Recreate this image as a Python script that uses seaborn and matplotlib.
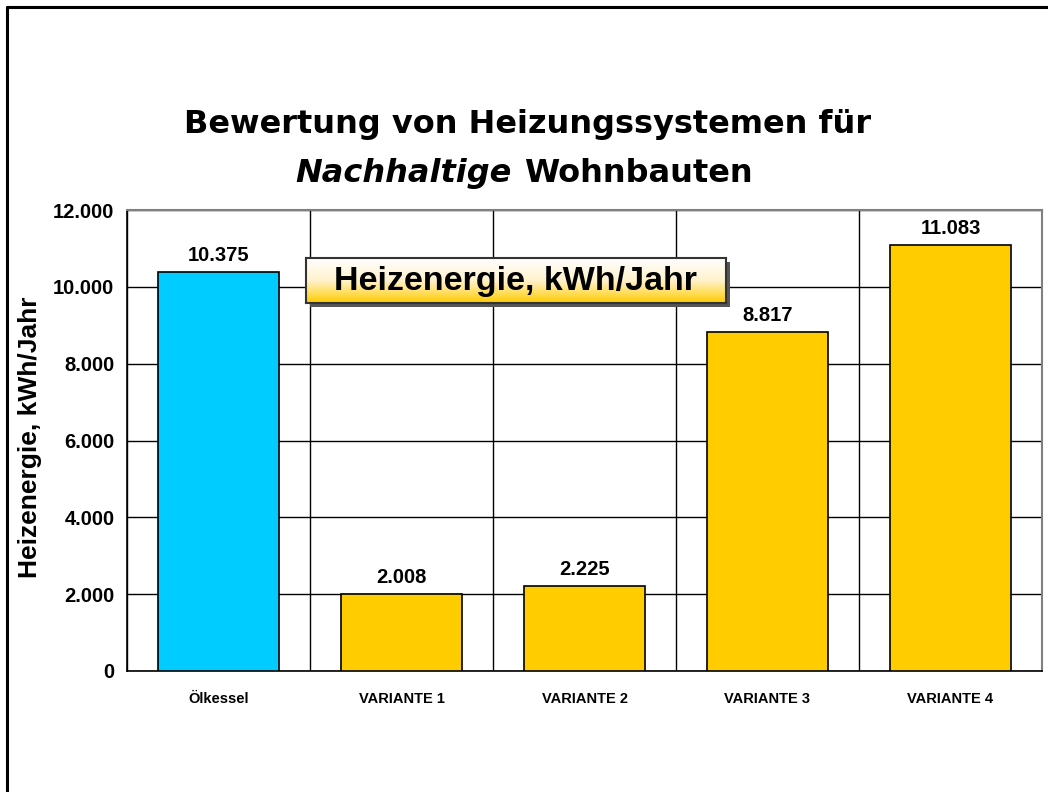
import numpy as np
import pandas as pd
import seaborn as sns
import matplotlib.pyplot as plt
from matplotlib.lines import Line2D
from matplotlib.patches import Rectangle
from matplotlib.colors import LinearSegmentedColormap
from matplotlib.ticker import FuncFormatter

# Daten aus dem Diagramm
kategorien = ["Ölkessel", "VARIANTE 1", "VARIANTE 2", "VARIANTE 3", "VARIANTE 4"]
heizenergie = [10375, 2008, 2225, 8817, 11083]
farben = ["#00CCFF", "#FFCC00", "#FFCC00", "#FFCC00", "#FFCC00"]
y_ticks = [0, 2000, 4000, 6000, 8000, 10000, 12000]

sns.set_style("white")
plt.rcParams['font.family'] = ['Liberation Sans', 'DejaVu Sans']
plt.rcParams['text.color'] = 'black'
plt.rcParams['xtick.color'] = 'black'
plt.rcParams['ytick.color'] = 'black'
plt.rcParams['axes.labelcolor'] = 'black'

df = pd.DataFrame({"kategorie": kategorien, "wert": heizenergie})

fig = plt.figure(figsize=(10.48, 7.92), dpi=100)
ax = fig.add_axes([127/1048, 1 - 671/792, (1042-127)/1048, (671-210)/792])

sns.barplot(data=df, x="kategorie", y="wert", hue="kategorie", palette=farben,
            legend=False, width=0.66, saturation=1, edgecolor="black", linewidth=1.2,
            ax=ax, zorder=3)

ax.set_xlim(-0.5, len(kategorien) - 0.5)
ax.set_ylim(0, 12000)
ax.set_yticks(y_ticks)
ax.yaxis.set_major_formatter(FuncFormatter(lambda v, p: f"{int(v):,}".replace(",", ".")))

# Gitternetz: horizontal bei Ticks, vertikal zwischen Kategorien
ax.set_xticks(np.arange(-0.5, len(kategorien)), minor=True)
ax.grid(axis="y", which="major", color="black", linewidth=1, zorder=0)
ax.grid(axis="x", which="minor", color="black", linewidth=1, zorder=0)
ax.set_axisbelow(True)

ax.tick_params(axis="x", which="major", length=0, pad=15, labelsize=10.5)
ax.tick_params(axis="x", which="minor", length=5, width=1, direction="out")
ax.tick_params(axis="y", length=6, width=1, direction="out", labelsize=14.5, pad=3)
for lbl in ax.get_xticklabels() + ax.get_yticklabels():
    lbl.set_fontweight("bold")

for side in ["left", "bottom"]:
    ax.spines[side].set_color("black")
    ax.spines[side].set_linewidth(1.2)
for side in ["top", "right"]:
    ax.spines[side].set_color("#808080")
    ax.spines[side].set_linewidth(1.5)

ax.set_xlabel("")
ax.set_ylabel("")
fig.text(30/1048, 1 - 437/792, "Heizenergie, kWh/Jahr", rotation=90, ha="center", va="center",
         fontsize=19, fontweight="bold")

# Werte über den Balken
for i, v in enumerate(heizenergie):
    ax.annotate(f"{v:,}".replace(",", "."), (i, v), xytext=(0, 5), textcoords="offset points",
                ha="center", va="bottom", fontsize=14.5, fontweight="bold")

# Titel (zweizeilig, teilweise kursiv)
titel_font = ['DejaVu Sans']
fig.text(528/1048, 1 - 133/792, "Bewertung von Heizungssystemen für", ha="center", va="baseline",
         fontsize=23, fontweight="bold", family=titel_font)
fig.text(512/1048, 1 - 182/792, "Nachhaltige", ha="right", va="baseline",
         fontsize=23, fontweight="bold", style="italic", family=titel_font)
fig.text(524/1048, 1 - 182/792, "Wohnbauten", ha="left", va="baseline",
         fontsize=23, fontweight="bold", family=titel_font)

# Beschriftungsfeld mit Farbverlauf und Schatten
bx0, by0, bx1, by1 = 306, 258, 726, 303
shadow = Rectangle(((bx0 + 4)/1048, 1 - (by1 + 4)/792), (bx1 - bx0)/1048, (by1 - by0)/792,
                   transform=fig.transFigure, facecolor="#555555", edgecolor="none", zorder=5)
fig.add_artist(shadow)
box_ax = fig.add_axes([bx0/1048, 1 - by1/792, (bx1 - bx0)/1048, (by1 - by0)/792], zorder=6)
verlauf = LinearSegmentedColormap.from_list("verlauf", ["#FFFFFF", "#FFF2CC", "#FFCC00"])
box_ax.imshow(np.linspace(0, 1, 100).reshape(-1, 1), aspect="auto", cmap=verlauf,
              extent=[0, 1, 0, 1], origin="upper")
box_ax.set_xticks([])
box_ax.set_yticks([])
for s in box_ax.spines.values():
    s.set_color("#333333")
    s.set_linewidth(1.5)
box_ax.text(0.5, 0.47, "Heizenergie, kWh/Jahr", ha="center", va="center",
            fontsize=24.5, fontweight="bold", transform=box_ax.transAxes)

# Rahmen der Folie (links und oben)
fig.add_artist(Line2D([7/1048, 7/1048], [0, 1 - 7/792], color="black", linewidth=2.2,
                      transform=fig.transFigure))
fig.add_artist(Line2D([7/1048, 1], [1 - 7/792, 1 - 7/792], color="black", linewidth=2.2,
                      transform=fig.transFigure))

fig.savefig("out.png", dpi=100, facecolor="white")
